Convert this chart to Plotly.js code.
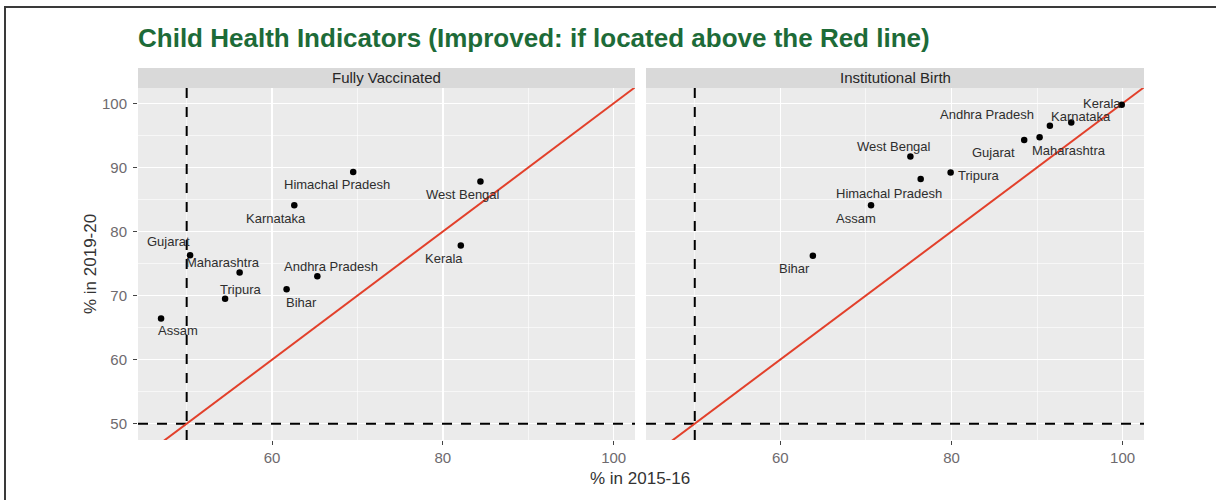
<!DOCTYPE html>
<html>
<head>
<meta charset="utf-8">
<script src="https://cdn.plot.ly/plotly-3.0.1.min.js"></script>
<style>
  html, body { margin: 0; padding: 0; background: #fff; }
  #wrap { position: relative; width: 1216px; height: 500px; overflow: hidden; }
  #chart { position: absolute; left: 0; top: 0; width: 1216px; height: 500px; }
  #frame { position: absolute; left: 4px; top: 6px; width: 1230px; height: 520px;
           border-top: 2px solid #3a3a3a; border-left: 2px solid #3a3a3a; pointer-events: none; }
</style>
</head>
<body>
<div id="wrap">
  <div id="chart"></div>
  <div id="frame"></div>
</div>
<script>
// ---- data ----
const states = ['Andhra Pradesh','Assam','Bihar','Gujarat','Himachal Pradesh','Karnataka','Kerala','Maharashtra','Tripura','West Bengal'];
const fullyVaccinated2015 = [65.3, 47.0, 61.7, 50.4, 69.5, 62.6, 82.1, 56.2, 54.5, 84.4];
const fullyVaccinated2019 = [73.0, 66.4, 71.0, 76.3, 89.3, 84.1, 77.8, 73.6, 69.5, 87.8];
const institutionalBirth2015 = [91.5, 70.6, 63.8, 88.5, 76.4, 94.0, 99.9, 90.3, 79.9, 75.2];
const institutionalBirth2019 = [96.5, 84.1, 76.2, 94.3, 88.2, 97.0, 99.8, 94.7, 89.2, 91.7];
const panelTitles = ['Fully Vaccinated', 'Institutional Birth'];
const thresholdX = 50;
const thresholdY = 50;
const refSlope = 1;
const refIntercept = 0;

// ---- label offsets in pixels (dx right, dy down), styling only ----
const labelOffsetsFV = [[14,-10],[17,12],[15,13],[-22,-14],[-16,13],[-18,13],[-17,13],[-17,-10],[15,-9],[-17,13]];
const labelOffsetsIB = [[-63,-11],[-15,13],[-18,13],[-31,13],[-32,15],[10,-6],[-20,-1],[29,13],[28,3],[-16,-10]];

const W = 1216, H = 500;
const xRange = [44.3, 102.5];
const yRange = [47.45, 102.4];
const FONT = 'Liberation Sans, Arial, sans-serif';

function panelTraces(xs, ys, xa, ya) {
  const ax = xa, ay = ya;
  const dashLine = {color: '#000', width: 2, dash: '10px,9px'};
  return [
    {type: 'scatter', mode: 'lines', x: [xRange[0], xRange[1]], y: [thresholdY, thresholdY],
     xaxis: ax, yaxis: ay, line: dashLine, hoverinfo: 'skip'},
    {type: 'scatter', mode: 'lines', x: [thresholdX, thresholdX], y: [yRange[0], yRange[1]],
     xaxis: ax, yaxis: ay, line: dashLine, hoverinfo: 'skip'},
    {type: 'scatter', mode: 'lines', x: [xRange[0], xRange[1]],
     y: [refIntercept + refSlope * xRange[0], refIntercept + refSlope * xRange[1]],
     xaxis: ax, yaxis: ay, line: {color: '#e2402b', width: 2}, hoverinfo: 'skip'},
    {type: 'scatter', mode: 'markers', x: xs, y: ys, text: states,
     xaxis: ax, yaxis: ay, marker: {color: '#000', size: 6.5}}
  ];
}

const data = [
  ...panelTraces(fullyVaccinated2015, fullyVaccinated2019, 'x', 'y'),
  ...panelTraces(institutionalBirth2015, institutionalBirth2019, 'x2', 'y2')
];

const annotations = [];
function addLabels(xs, ys, offs, xr, yr) {
  states.forEach((s, i) => {
    annotations.push({
      x: xs[i], y: ys[i], xref: xr, yref: yr, text: s, showarrow: false,
      xanchor: 'center', yanchor: 'middle',
      xshift: offs[i][0], yshift: -offs[i][1],
      font: {family: FONT, size: 13, color: '#2e2e2e'}
    });
  });
}
addLabels(fullyVaccinated2015, fullyVaccinated2019, labelOffsetsFV, 'x', 'y');
addLabels(institutionalBirth2015, institutionalBirth2019, labelOffsetsIB, 'x2', 'y2');

const panelTop = 1 - 88 / H, panelBottom = 1 - 440 / H, stripTop = 1 - 68 / H;
const shapes = [];
[['x', panelTitles[0]], ['x2', panelTitles[1]]].forEach(([xa, t]) => {
  shapes.push({type: 'rect', xref: xa + ' domain', yref: 'paper', x0: 0, x1: 1,
               y0: panelTop, y1: stripTop, fillcolor: '#d9d9d9', line: {width: 0}, layer: 'below'});
  annotations.push({xref: xa + ' domain', yref: 'paper', x: 0.5, y: (panelTop + stripTop) / 2,
                    text: t, showarrow: false, xanchor: 'center', yanchor: 'middle',
                    font: {family: FONT, size: 15, color: '#262626'}});
});

annotations.push({xref: 'paper', yref: 'paper', x: 640 / W, y: 1 - 478 / H, text: '% in 2015-16',
                  showarrow: false, xanchor: 'center', yanchor: 'middle',
                  font: {family: FONT, size: 17, color: '#333'}});
annotations.push({xref: 'paper', yref: 'paper', x: 90 / W, y: 1 - 264 / H, text: '% in 2019-20',
                  textangle: -90, showarrow: false, xanchor: 'center', yanchor: 'middle',
                  font: {family: FONT, size: 17, color: '#333'}});

function xAxis(domain, anchor) {
  return {
    domain: domain, anchor: anchor, range: xRange, tick0: 0, dtick: 20,
    ticks: 'outside', ticklen: 4, tickwidth: 1.1, tickcolor: '#444',
    showgrid: true, gridcolor: '#ffffff', gridwidth: 1.3, zeroline: false, showline: false,
    minor: {tick0: 0, dtick: 10, showgrid: true, gridcolor: '#ffffff', gridwidth: 0.6, ticks: ''},
    tickfont: {family: FONT, size: 15, color: '#6e6a6e'}, fixedrange: true
  };
}
const yBase = {
  domain: [panelBottom, panelTop], range: yRange, tick0: 0, dtick: 10,
  ticks: 'outside', ticklen: 4, tickwidth: 1.1, tickcolor: '#444',
  showgrid: true, gridcolor: '#ffffff', gridwidth: 1.3, zeroline: false, showline: false,
  minor: {tick0: 0, dtick: 5, showgrid: true, gridcolor: '#ffffff', gridwidth: 0.6, ticks: ''},
  tickfont: {family: FONT, size: 15, color: '#6e6a6e'}, fixedrange: true
};

const layout = {
  width: W, height: H, margin: {l: 0, r: 0, t: 0, b: 0},
  paper_bgcolor: '#ffffff', plot_bgcolor: '#ebebeb', showlegend: false,
  title: {text: 'Child Health Indicators (Improved: if located above the Red line)',
          x: 138 / W, xref: 'paper', xanchor: 'left', y: 1 - 38 / H, yref: 'container', yanchor: 'middle',
          font: {family: FONT, size: 26, color: '#1d6b38', weight: 'bold'}},
  xaxis: xAxis([138 / W, 635 / W], 'y'),
  xaxis2: xAxis([646 / W, 1144 / W], 'y2'),
  yaxis: Object.assign({}, yBase, {anchor: 'x', ticklabelstandoff: 3}),
  yaxis2: Object.assign({}, yBase, {anchor: 'x2', matches: 'y', showticklabels: false, ticks: ''}),
  shapes: shapes, annotations: annotations, hovermode: false
};

Plotly.newPlot('chart', data, layout, {staticPlot: true, displayModeBar: false});
</script>
</body>
</html>
